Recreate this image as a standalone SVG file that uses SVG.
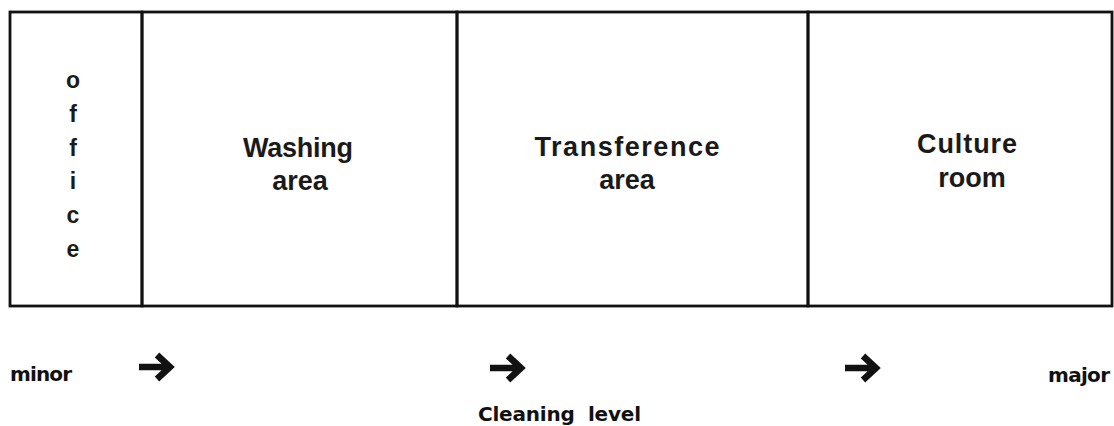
<svg xmlns="http://www.w3.org/2000/svg" width="1114" height="426" viewBox="0 0 1114 426">
<style>
.wall{fill:none;stroke:#111;stroke-width:2.8}
.room{font-family:"Liberation Sans",Arial,sans-serif;font-weight:bold;font-size:27px;fill:#1a1a1a;text-anchor:middle}
.ofc{font-family:"Liberation Sans",Arial,sans-serif;font-weight:bold;font-size:23px;fill:#1a1a1a;text-anchor:middle}
.scale{font-family:"DejaVu Sans",sans-serif;font-weight:bold;font-size:20px;fill:#111}
.arr{fill:none;stroke:#111;stroke-width:6.5}
</style>
<rect width="1114" height="426" fill="#fff"/>
<g id="office">
<rect class="wall" x="10" y="12" width="132" height="294"/>
<text class="ofc" x="73" y="88">o</text>
<text class="ofc" x="73" y="122">f</text>
<text class="ofc" x="73" y="156">f</text>
<text class="ofc" x="73" y="189">i</text>
<text class="ofc" x="73" y="223">c</text>
<text class="ofc" x="73" y="257">e</text>
</g>
<g id="washing-area">
<rect class="wall" x="142" y="12" width="315" height="294"/>
<text class="room" x="298" y="157" textLength="110">Washing</text>
<text class="room" x="300" y="190">area</text>
</g>
<g id="transference-area">
<rect class="wall" x="457" y="12" width="351" height="294"/>
<text class="room" x="627" y="156" textLength="185">Transference</text>
<text class="room" x="627" y="189">area</text>
</g>
<g id="culture-room">
<rect class="wall" x="808" y="12" width="304" height="294"/>
<text class="room" x="967" y="153" textLength="100">Culture</text>
<text class="room" x="972" y="187">room</text>
</g>
<g id="scale-arrows">
<path class="arr" d="M139 367H168M157 355L170 367L157 379"/>
<path class="arr" d="M490 368H519M508 356L521 368L508 380"/>
<path class="arr" d="M845 368H874M863 356L876 368L863 380"/>
</g>
<g id="scale-labels">
<text class="scale" x="10" y="381" textLength="62">minor</text>
<text class="scale" x="1048" y="382" textLength="62">major</text>
<text class="scale" x="478" y="421" textLength="163" xml:space="preserve">Cleaning  level</text>
</g>
</svg>
